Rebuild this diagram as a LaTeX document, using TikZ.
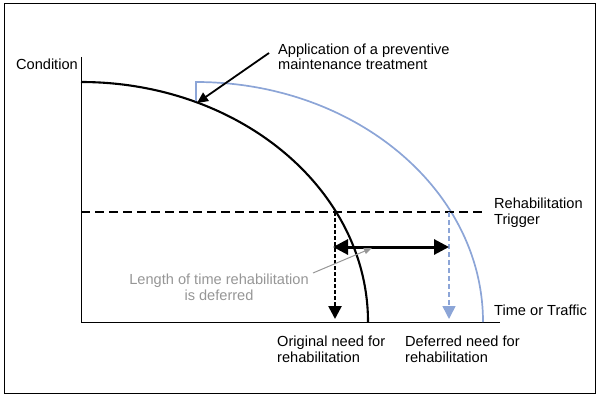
\documentclass[tikz,border=0pt]{standalone}
\usepackage{fontspec}
\setmainfont{Liberation Sans}
\usetikzlibrary{arrows.meta}
\definecolor{lblue}{RGB}{140,165,215}
\definecolor{tgray}{RGB}{150,150,150}
\begin{document}
\begin{tikzpicture}[x=1pt,y=-1pt,
  lbl/.style={inner sep=0pt,font=\fontsize{14.6}{15.5}\selectfont,align=left},
  axis/.style={line width=1pt,black},
  curveb/.style={line width=2.1pt,black},
  curvel/.style={line width=1.7pt,lblue},
  trig/.style={line width=2.8pt,dash pattern=on 9pt off 5pt},
  dropb/.style={line width=2.6pt,dash pattern=on 3.5pt off 2.5pt,-{Triangle[width=13pt,length=13pt]}},
  dropl/.style={line width=1.5pt,lblue,dash pattern=on 5pt off 3pt,-{Triangle[width=13pt,length=13pt]}},
  span/.style={line width=3pt,{Triangle[width=15pt,length=15pt]}-{Triangle[width=15pt,length=15pt]}},
  note/.style={line width=1.8pt,-{Triangle[width=10pt,length=11pt]}},
  gnote/.style={line width=1pt,tgray,-{Triangle[width=6pt,length=8pt]}}]
\useasboundingbox (0,0) rectangle (599,396);
\draw[line width=1pt] (4,4) rectangle (595,393);
% axes
\coordinate (O) at (81,322);
\coordinate (ytop) at (81,57);
\coordinate (xend) at (500,322);
\draw[axis] (ytop) -- (O) -- (xend);
% curves
\draw[curveb] (81,82) arc[start angle=-90,end angle=0,x radius=287,y radius=240];
\draw[curvel] (196,101) -- (196,82) arc[start angle=-90,end angle=0,x radius=287,y radius=240];
% trigger
\coordinate (t0) at (81,212);
\coordinate (t1) at (486,212);
\draw[trig] (t0) -- (t1);
\coordinate (pA) at (335,212);
\coordinate (pB) at (449,212);
\coordinate (fA) at (335,319);
\coordinate (fB) at (449,319);
\draw[dropb] (pA) -- (fA);
\draw[dropl] (pB) -- (fB);
\coordinate (sA) at (333,247);
\coordinate (sB) at (449,247);
\draw[span] (sA) -- (sB);
% labels
\node[lbl,anchor=base east] (cond) at (78,70) {Condition};
\node[lbl,anchor=base west] (app) at (278,70) {Application of a preventive\\maintenance treatment};
\coordinate (appt) at (197,103);
\draw[note] (269,53) -- (appt);
\node[lbl,anchor=base west] (rt) at (494,224) {Rehabilitation\\Trigger};
\node[lbl,anchor=base west] (tt) at (494,315) {Time or Traffic};
\node[lbl,anchor=base west] (orig) at (277,362) {Original need for\\rehabilitation};
\node[lbl,anchor=base west] (def) at (405,362) {Deferred need for\\rehabilitation};
\node[lbl,anchor=base,align=center,text=tgray] (len) at (219,300) {Length of time rehabilitation\\is deferred};
\coordinate (lent) at (372,248);
\draw[gnote] (313,273) -- (lent);
\end{tikzpicture}
\end{document}
